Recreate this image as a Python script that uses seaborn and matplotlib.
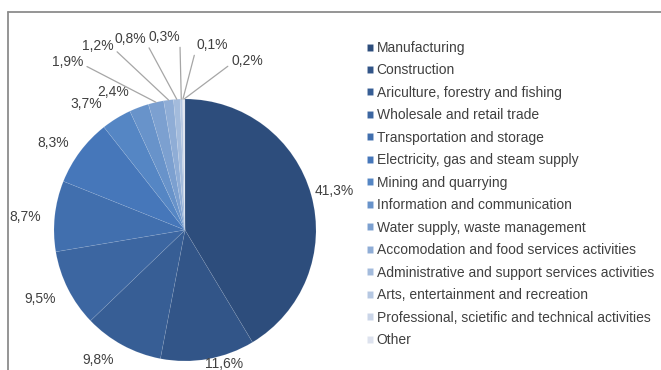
import numpy as np
import matplotlib
matplotlib.use("Agg")
import matplotlib.pyplot as plt
import seaborn as sns
from matplotlib.lines import Line2D

# ---- data ----
categories = [
    "Manufacturing",
    "Construction",
    "Ariculture, forestry and fishing",
    "Wholesale and retail trade",
    "Transportation and storage",
    "Electricity, gas and steam supply",
    "Mining and quarrying",
    "Information and communication",
    "Water supply, waste management",
    "Accomodation and food services activities",
    "Administrative and support services activities",
    "Arts, entertainment and recreation",
    "Professional, scietific and technical activities",
    "Other",
]
shares = [41.3, 11.6, 9.8, 9.5, 8.7, 8.3, 3.7, 2.4, 1.9, 1.2, 0.8, 0.3, 0.1, 0.2]

# ---- layout (label text positions in pie-radius units) ----
label_xy = [
    (1.137, 0.298), (0.298, -1.025), (-0.664, -0.992), (-1.107, -0.527),
    (-1.221, 0.099), (-1.008, 0.664), (-0.756, 0.962), (-0.550, 1.053),
    (-0.893, 1.282), (-0.664, 1.405), (-0.420, 1.458), (-0.160, 1.473),
    (0.206, 1.412), (0.473, 1.290),
]
leader = [False] * 8 + [True] * 6

sns.set_theme(style="white")
plt.rcParams['font.family'] = ['Liberation Sans', 'DejaVu Sans']
text_color = "#404040"

colors = (sns.blend_palette(["#2D4D7C", "#4677BA"], 6)
          + sns.blend_palette(["#5586C4", "#DDE2EE"], 8))

W, H = 661, 370
fig = plt.figure(figsize=(W / 100, H / 100), dpi=100)
fig.patch.set_facecolor("white")

cx, cy, r = 185, 230, 131
ax = fig.add_axes([(cx - r) / W, (H - cy - r) / H, 2 * r / W, 2 * r / H])
wedges, _ = ax.pie(shares, colors=colors, startangle=90, counterclock=False,
                   radius=1, wedgeprops=dict(edgecolor=(1, 1, 1, 0.1), linewidth=0.5))
ax.set_xlim(-1, 1)
ax.set_ylim(-1, 1)
ax.set_axis_off()

fs = 10
for w, v, (tx, ty), ld in zip(wedges, shares, label_xy, leader):
    txt = f"{v:.1f}%".replace(".", ",")
    if ld:
        mid = np.deg2rad((w.theta1 + w.theta2) / 2)
        rel = (1, 0.3) if tx < 0 else (0, 0.3)
        ax.annotate(txt, xy=(np.cos(mid), np.sin(mid)), xytext=(tx, ty),
                    ha="center", va="center", fontsize=fs, color=text_color,
                    annotation_clip=False,
                    arrowprops=dict(arrowstyle="-", color="#A6A6A6", lw=0.9,
                                    shrinkA=0, shrinkB=0, relpos=rel))
    else:
        ax.text(tx, ty, txt, ha="center", va="center", fontsize=fs,
                color=text_color, clip_on=False)

fig.legend(wedges, categories, loc="upper left",
           bbox_to_anchor=(367 / W, 1 - 41 / H), frameon=False, fontsize=10,
           handlelength=0.4, handleheight=0.4, handletextpad=0.3,
           labelspacing=0.61, borderpad=0, borderaxespad=0,
           labelcolor=text_color)

# chart frame (left and top edges visible)
fc = "#8C8C8C"
fig.add_artist(Line2D([8 / W, 8 / W], [0, 1 - 12 / H], transform=fig.transFigure,
                      color=fc, lw=1.3))
fig.add_artist(Line2D([8 / W, 1], [1 - 12 / H, 1 - 12 / H], transform=fig.transFigure,
                      color=fc, lw=1.3))

fig.savefig("out.png", dpi=100, facecolor="white")
